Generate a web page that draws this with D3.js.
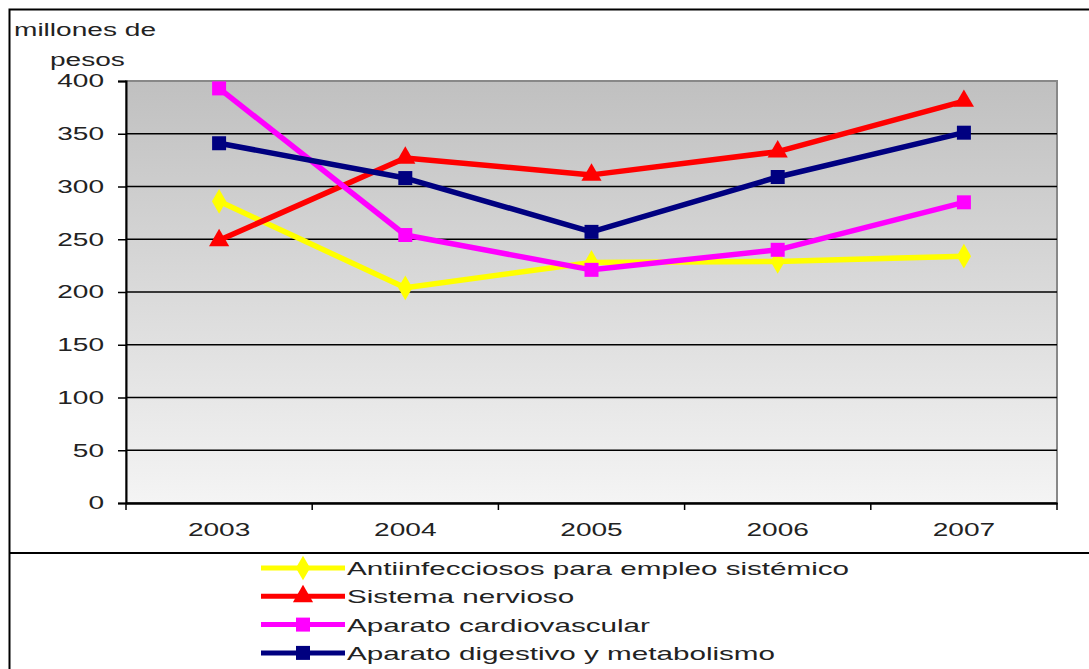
<!DOCTYPE html>
<html><head><meta charset="utf-8">
<script src="https://cdn.jsdelivr.net/npm/d3@7"></script>
<style>body{margin:0;background:#fff}svg{display:block;font-family:"Liberation Sans",Arial,sans-serif}</style>
</head><body><svg id="c" width="1089" height="669"></svg>
<script>
const years = ["2003","2004","2005","2006","2007"];
const yTicks = [0,50,100,150,200,250,300,350,400];
const antiinfecciosos = [286, 204, 228, 229, 234];
const sistemaNervioso = [249, 327, 311, 333, 381];
const cardiovascular = [393, 254, 221, 240, 285];
const digestivo = [341, 308, 257, 309, 351];
const seriesNames = ["Antiinfecciosos para empleo sistémico","Sistema nervioso","Aparato cardiovascular","Aparato digestivo y metabolismo"];
const seriesColors = ["#ffff00","#ff0000","#ff00ff","#000080"];
const seriesMarkers = ["diamond","triangle","square","square"];
const seriesValues = [antiinfecciosos, sistemaNervioso, cardiovascular, digestivo];

const SX = 1.56; // horizontal text stretch seen in the reference
const svg = d3.select("#c");
const L=126, R=1057, T=81, B=503;
const x = d3.scaleBand().domain(years).range([L,R]);
const y = d3.scaleLinear().domain([0,400]).range([B,T]);

// outer border
svg.append("path").attr("d","M1089,9.5H9.5V669").attr("fill","none").attr("stroke","#000").attr("stroke-width",2);
svg.append("line").attr("x1",9).attr("x2",1089).attr("y1",553).attr("y2",553).attr("stroke","#000").attr("stroke-width",2);

// gradient
const defs = svg.append("defs");
const g = defs.append("linearGradient").attr("id","bg").attr("x1",0).attr("x2",0).attr("y1",0).attr("y2",1);
g.append("stop").attr("offset","0").attr("stop-color","#c0c0c0");
g.append("stop").attr("offset","1").attr("stop-color","#f4f4f4");
svg.append("rect").attr("x",L).attr("y",T).attr("width",R-L).attr("height",B-T).attr("fill","url(#bg)").attr("stroke","#888").attr("stroke-width",2);

// gridlines
svg.append("g").selectAll("line").data(yTicks.filter(d=>d>0&&d<400)).join("line")
  .attr("x1",L).attr("x2",R).attr("y1",d=>y(d)).attr("y2",d=>y(d)).attr("stroke","#000").attr("stroke-width",1.5);

// axes
const yAxis = svg.append("g").attr("transform",`translate(${L},0)`)
  .call(d3.axisLeft(y).tickValues(yTicks).tickSize(8).tickPadding(8));
yAxis.select(".domain").attr("stroke","#000").attr("stroke-width",2);
yAxis.selectAll(".tick line").attr("stroke","#000").attr("stroke-width",1.5);
yAxis.selectAll("text").attr("font-size",18).attr("fill","#222").attr("font-family","Liberation Sans, Arial, sans-serif")
  .attr("x",-22/SX).attr("transform",`scale(${SX},1)`);

const xAxis = svg.append("g").attr("transform",`translate(0,${B})`)
  .call(d3.axisBottom(x).tickSize(0).tickPadding(20));
xAxis.select(".domain").attr("stroke","#000").attr("stroke-width",2.5);
xAxis.selectAll("text").attr("font-size",18).attr("fill","#222").attr("font-family","Liberation Sans, Arial, sans-serif")
  .attr("transform",`scale(${SX},1)`);
const bounds = years.map(d=>x(d)).concat([R]);
svg.append("g").selectAll("line").data(bounds).join("line")
  .attr("x1",d=>d).attr("x2",d=>d).attr("y1",B).attr("y2",B+7).attr("stroke","#000").attr("stroke-width",1.5);

// y title
svg.append("text").attr("transform",`translate(14,36) scale(${SX},1)`).attr("font-size",18).attr("fill","#222").text("millones de");
svg.append("text").attr("transform",`translate(50,66) scale(${SX},1)`).attr("font-size",18).attr("fill","#222").text("pesos");

function markerPath(type, s){
  if(type==="square") return d3.symbol(d3.symbolSquare, s*s)();
  if(type==="triangle") return d3.symbol(d3.symbolTriangle, s*s*0.9)();
  return d3.symbol(d3.symbolDiamond, s*s*0.9)();
}
const line = d3.line().x((d,i)=>x(years[i])+x.bandwidth()/2).y(d=>y(d));
seriesValues.forEach((vals,k)=>{
  svg.append("path").datum(vals).attr("d",line).attr("fill","none").attr("stroke",seriesColors[k]).attr("stroke-width",5.5).attr("stroke-linejoin","round");
  svg.append("g").selectAll("path").data(vals).join("path")
    .attr("transform",(d,i)=>`translate(${x(years[i])+x.bandwidth()/2},${y(d)})`)
    .attr("d",markerPath(seriesMarkers[k],14)).attr("fill",seriesColors[k]);
});

// legend
const lg = svg.append("g");
seriesNames.forEach((n,k)=>{
  const yy = 568 + k*28.3;
  lg.append("line").attr("x1",261).attr("x2",345).attr("y1",yy).attr("y2",yy).attr("stroke",seriesColors[k]).attr("stroke-width",5);
  lg.append("path").attr("transform",`translate(303,${yy})`).attr("d",markerPath(seriesMarkers[k],14)).attr("fill",seriesColors[k]);
  lg.append("text").attr("transform",`translate(347,${yy+7}) scale(${SX},1)`).attr("font-size",19).attr("fill","#222").text(n);
});
</script></body></html>
